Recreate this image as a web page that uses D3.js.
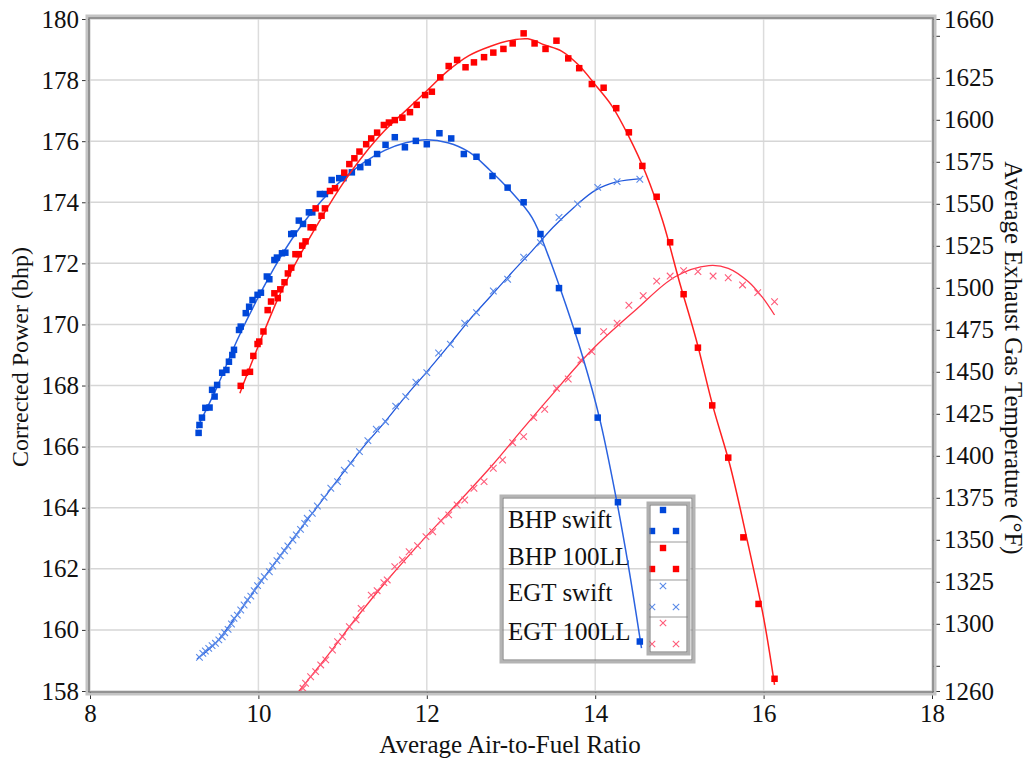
<!DOCTYPE html>
<html><head><meta charset="utf-8">
<script src="https://cdn.jsdelivr.net/npm/d3@7"></script>
<style>body{margin:0;background:#fff}</style>
</head><body><svg id="c" width="1033" height="761"></svg>
<script>
// ---------- data ----------
const xTicks = [8, 10, 12, 14, 16, 18];
const yLeftTicks = [158, 160, 162, 164, 166, 168, 170, 172, 174, 176, 178, 180];
const yRightTicks = [1260, 1275, 1300, 1325, 1350, 1375, 1400, 1425, 1450, 1475, 1500, 1525, 1550, 1575, 1600, 1625, 1650, 1660];
const yRightUnlabelled = [1275, 1650];
const legendLabels = ["BHP swift", "BHP 100LL", "EGT swift", "EGT 100LL"];

const bhpSwiftAFR = [9.29,9.30,9.33,9.37,9.42,9.45,9.48,9.51,9.57,9.62,9.65,9.69,9.71,9.77,9.79,9.85,9.89,9.93,9.99,10.03,10.10,10.13,10.19,10.22,10.28,10.32,10.39,10.42,10.48,10.53,10.60,10.64,10.73,10.79,10.87,10.96,11.01,11.11,11.21,11.30,11.41,11.51,11.62,11.74,11.87,12.00,12.15,12.29,12.44,12.59,12.78,12.96,13.15,13.35,13.57,13.79,14.03,14.27,14.53];
const bhpSwift = [166.45,166.71,166.95,167.27,167.28,167.86,167.64,168.02,168.42,168.51,168.78,169.00,169.17,169.82,169.93,170.37,170.58,170.80,170.97,171.04,171.57,171.48,172.11,172.19,172.33,172.35,172.96,172.98,173.40,173.29,173.67,173.67,174.27,174.27,174.73,174.79,174.79,174.98,175.15,175.30,175.58,175.88,176.13,175.80,176.01,175.90,176.26,176.09,175.58,175.49,174.86,174.48,174.00,172.96,171.19,169.79,166.95,164.18,159.62];
const bhpSwiftFitAFR = [9.27,9.5,9.75,10.0,10.25,10.5,10.75,11.0,11.25,11.5,11.75,12.0,12.25,12.5,12.75,13.0,13.25,13.45,13.65,13.85,14.05,14.25,14.4,14.55];
const bhpSwiftFit = [166.6,167.9,169.5,170.9,172.15,173.2,174.05,174.75,175.3,175.7,175.95,176.05,175.95,175.65,175.05,174.35,173.5,172.2,170.65,168.95,166.95,164.3,162.0,159.4];

const bhp100AFR = [9.79,9.84,9.90,9.94,9.99,10.01,10.06,10.11,10.15,10.19,10.23,10.26,10.31,10.35,10.39,10.44,10.48,10.52,10.56,10.62,10.65,10.68,10.75,10.79,10.85,10.91,11.02,11.08,11.14,11.20,11.28,11.34,11.41,11.49,11.55,11.62,11.71,11.80,11.88,11.98,12.06,12.16,12.26,12.36,12.46,12.56,12.68,12.79,12.91,13.02,13.15,13.28,13.41,13.54,13.68,13.81,13.96,14.10,14.25,14.40,14.56,14.73,14.89,15.05,15.22,15.39,15.58,15.76,15.94,16.13];
const bhp100 = [167.99,168.42,168.45,168.97,169.36,169.44,169.77,170.47,170.75,171.02,170.86,171.15,171.38,171.67,171.86,172.30,172.30,172.58,172.72,173.18,173.18,173.80,173.56,173.80,174.37,174.46,174.97,175.25,175.44,175.66,175.90,176.09,176.28,176.53,176.61,176.69,176.77,176.95,177.19,177.51,177.62,178.09,178.46,178.66,178.42,178.58,178.75,178.90,179.02,179.20,179.53,179.20,179.02,179.29,178.71,178.39,177.87,177.75,177.08,176.29,175.19,174.18,172.69,170.99,169.24,167.35,165.64,163.03,160.85,158.40];
const bhp100FitAFR = [9.78,10.0,10.25,10.5,10.75,11.0,11.25,11.5,11.75,12.0,12.25,12.5,12.75,13.0,13.2,13.4,13.6,13.8,14.0,14.2,14.4,14.6,14.8,15.0,15.2,15.4,15.6,15.8,16.0,16.13];
const bhp100Fit = [167.75,169.3,170.95,172.3,173.5,174.6,175.55,176.35,177.0,177.65,178.3,178.8,179.1,179.3,179.35,179.15,178.95,178.5,177.85,177.15,176.15,174.95,173.4,171.4,169.5,167.3,165.4,163.0,160.4,158.2];

const egtSwiftAFR = [9.30,9.34,9.37,9.41,9.45,9.49,9.53,9.57,9.60,9.64,9.68,9.71,9.75,9.79,9.83,9.87,9.91,9.95,9.99,10.03,10.07,10.13,10.17,10.22,10.26,10.31,10.35,10.41,10.45,10.50,10.55,10.58,10.64,10.70,10.78,10.86,10.94,11.02,11.10,11.20,11.30,11.40,11.51,11.63,11.75,11.87,12.00,12.14,12.28,12.45,12.59,12.79,12.96,13.15,13.35,13.57,13.79,14.03,14.26,14.53];
const egtSwift = [1280.0,1282.4,1283.8,1285.4,1287.0,1288.4,1290.4,1292.3,1294.7,1296.7,1299.9,1303.3,1305.2,1308.2,1311.2,1314.2,1316.5,1319.7,1322.7,1325.7,1328.0,1331.0,1334.4,1337.6,1340.4,1343.5,1346.3,1349.9,1352.9,1356.2,1359.8,1362.8,1365.8,1370.1,1375.3,1380.7,1384.6,1391.5,1395.5,1402.5,1409.0,1415.8,1420.3,1429.6,1435.2,1443.8,1449.5,1461.2,1466.4,1478.9,1485.2,1498.1,1505.1,1518.2,1526.8,1541.9,1549.9,1559.8,1563.2,1564.6];
const egtSwiftFitAFR = [9.27,9.5,9.75,10.0,10.25,10.5,10.75,11.0,11.25,11.5,11.75,12.0,12.25,12.5,12.75,13.0,13.25,13.5,13.75,14.0,14.25,14.55];
const egtSwiftFit = [1279,1289,1305.5,1323,1340,1356.5,1373,1389.5,1405.5,1420,1435.5,1450,1465,1480.5,1494.5,1508.5,1522,1536,1548,1558,1563,1565];

const egt100AFR = [10.53,10.56,10.62,10.68,10.74,10.80,10.88,10.94,11.00,11.08,11.16,11.22,11.34,11.41,11.49,11.53,11.62,11.71,11.79,11.89,11.99,12.07,12.17,12.26,12.36,12.45,12.56,12.68,12.79,12.90,13.02,13.15,13.27,13.40,13.54,13.68,13.83,13.96,14.10,14.26,14.40,14.57,14.73,14.89,15.05,15.22,15.40,15.58,15.75,15.93,16.13];
const egt100 = [1261.6,1264.6,1268.5,1271.5,1275.5,1278.5,1284.4,1289.4,1292.3,1298.3,1302.3,1309.2,1317.1,1319.7,1324.5,1326.1,1334.0,1338.0,1342.9,1346.5,1351.9,1354.8,1361.2,1364.8,1370.7,1373.7,1380.7,1384.6,1392.6,1397.5,1407.8,1411.4,1422.7,1427.7,1440.2,1445.7,1457.0,1462.0,1473.9,1478.9,1489.6,1495.3,1504.0,1507.0,1510.2,1509.6,1507.0,1506.0,1501.7,1497.1,1491.7];
const egt100FitAFR = [10.45,10.84,11.16,11.55,11.99,12.42,12.78,13.13,13.45,13.96,14.48,14.95,15.35,15.58,15.82,15.98,16.13];
const egt100Fit = [1258,1282.3,1303.3,1327.1,1351.9,1374.7,1394.5,1415.4,1434.2,1463,1486.8,1506.6,1513.2,1511.6,1503.6,1494.7,1483.8];

// ---------- layout ----------
const svg = d3.select("#c");
const X0 = 90, X1 = 932, Y0 = 19, Y1 = 691;
const x = d3.scaleLinear().domain([8, 18]).range([X0, X1]);
const yL = d3.scaleLinear().domain([158, 180]).range([Y1, Y0]);
const yR = d3.scaleLinear().domain([1260, 1660]).range([Y1, Y0]);
const FONT = "'Liberation Serif','Times New Roman',serif";

const C = {
  bhpSwift: "#0047d9", bhpSwiftLine: "#2a62e0",
  bhp100: "#ff0000", bhp100Line: "#ff2020",
  egtSwift: "#5a8ae8", egtSwiftLine: "#2158dc",
  egt100: "#ff5c7a", egt100Line: "#ff3347"
};

svg.append("rect").attr("width", 1033).attr("height", 761).attr("fill", "#fff");

// gridlines
const grid = svg.append("g");
grid.selectAll("line.gx").data(xTicks).join("line")
  .attr("x1", d => x(d)).attr("x2", d => x(d)).attr("y1", Y0).attr("y2", Y1)
  .attr("stroke", "#dcdcdc").attr("stroke-width", 1.5);
grid.selectAll("line.gy").data(yLeftTicks).join("line")
  .attr("x1", X0).attr("x2", X1).attr("y1", d => yL(d)).attr("y2", d => yL(d))
  .attr("stroke", "#d6d6d6").attr("stroke-width", 1.5);

// axes
function styleAxis(g) {
  g.attr("font-family", FONT).attr("font-size", 25);
  g.select(".domain").remove();
  g.selectAll("text").style("font-family", FONT).style("font-size", "25px").attr("fill", "#111");
  g.selectAll("line").attr("stroke", "#333").attr("stroke-width", 1);
}
svg.append("g").attr("transform", `translate(${X0 - 1},0)`)
  .call(d3.axisLeft(yL).tickValues(yLeftTicks).tickSize(7).tickPadding(3).tickFormat(d3.format("d")))
  .call(styleAxis);
svg.append("g").attr("transform", `translate(${X1 + 1},0)`)
  .call(d3.axisRight(yR).tickValues(yRightTicks).tickSize(7).tickPadding(4)
    .tickFormat(d => yRightUnlabelled.includes(d) ? "" : d3.format("d")(d)))
  .call(styleAxis);
svg.append("g").attr("transform", `translate(0,${Y1 + 1})`)
  .call(d3.axisBottom(x).tickValues(xTicks).tickSize(7).tickPadding(5).tickFormat(d3.format("d")))
  .call(styleAxis);

// frame (bevelled double border)
svg.append("rect").attr("x", X0 - 3).attr("y", Y0 - 3).attr("width", X1 - X0 + 6).attr("height", Y1 - Y0 + 6)
  .attr("fill", "none").attr("stroke", "#c4c4c4").attr("stroke-width", 3);
svg.append("rect").attr("x", X0 - 1).attr("y", Y0 - 1).attr("width", X1 - X0 + 2).attr("height", Y1 - Y0 + 2)
  .attr("fill", "none").attr("stroke", "#7a7a7a").attr("stroke-width", 1.5);

// axis titles
svg.append("text").attr("transform", `translate(28,357) rotate(-90)`).attr("text-anchor", "middle")
  .style("font-family", FONT).attr("font-size", 24).attr("fill", "#111").text("Corrected Power (bhp)");
svg.append("text").attr("transform", `translate(1005,358) rotate(90)`).attr("text-anchor", "middle")
  .style("font-family", FONT).attr("font-size", 25).attr("fill", "#111").text("Average Exhaust Gas Temperature (°F)");
svg.append("text").attr("x", 510).attr("y", 753).attr("text-anchor", "middle")
  .style("font-family", FONT).attr("font-size", 25).attr("fill", "#111").text("Average Air-to-Fuel Ratio");

// legend (transparent text area)
const lg = svg.append("g");
lg.append("rect").attr("x", 501).attr("y", 496).attr("width", 193).attr("height", 166)
  .attr("fill", "none").attr("stroke", "#b4b4b4").attr("stroke-width", 3);
lg.append("rect").attr("x", 503).attr("y", 498).attr("width", 189).attr("height", 162)
  .attr("fill", "none").attr("stroke", "#777").attr("stroke-width", 1);
lg.selectAll("text").data(legendLabels).join("text")
  .attr("x", 508).attr("y", (d, i) => [528, 565, 601, 640][i])
  .style("font-family", FONT).attr("font-size", 25).attr("fill", "#111").text(d => d);

// plot clip
svg.append("clipPath").attr("id", "plotclip").append("rect")
  .attr("x", X0).attr("y", Y0).attr("width", X1 - X0).attr("height", Y1 - Y0);
const plot = svg.append("g").attr("clip-path", "url(#plotclip)");

const zip = (a, b) => a.map((v, i) => [v, b[i]]);
const lineL = d3.line().x(d => x(d[0])).y(d => yL(d[1])).curve(d3.curveCatmullRom);
const lineR = d3.line().x(d => x(d[0])).y(d => yR(d[1])).curve(d3.curveCatmullRom);

function xMarks(g, pts, yScale, color, s) {
  g.selectAll(null).data(pts).join("path")
    .attr("d", d => {
      const cx = x(d[0]), cy = yScale(d[1]);
      return `M${cx - s},${cy - s}L${cx + s},${cy + s}M${cx - s},${cy + s}L${cx + s},${cy - s}`;
    })
    .attr("stroke", color).attr("stroke-width", 1.1).attr("fill", "none");
}
function sqMarks(g, pts, yScale, color, s) {
  g.selectAll(null).data(pts).join("rect")
    .attr("x", d => x(d[0]) - s / 2).attr("y", d => yScale(d[1]) - s / 2)
    .attr("width", s).attr("height", s).attr("fill", color);
}

// EGT series (right axis)
plot.append("path").datum(zip(egtSwiftFitAFR, egtSwiftFit)).attr("d", lineR)
  .attr("fill", "none").attr("stroke", C.egtSwiftLine).attr("stroke-width", 1.3);
xMarks(plot.append("g"), zip(egtSwiftAFR, egtSwift), yR, C.egtSwift, 3.3);
plot.append("path").datum(zip(egt100FitAFR, egt100Fit)).attr("d", lineR)
  .attr("fill", "none").attr("stroke", C.egt100Line).attr("stroke-width", 1.3);
xMarks(plot.append("g"), zip(egt100AFR, egt100), yR, C.egt100, 3.3);

// BHP series (left axis)
plot.append("path").datum(zip(bhpSwiftFitAFR, bhpSwiftFit)).attr("d", lineL)
  .attr("fill", "none").attr("stroke", C.bhpSwiftLine).attr("stroke-width", 1.5);
sqMarks(plot.append("g"), zip(bhpSwiftAFR, bhpSwift), yL, C.bhpSwift, 6.5);
plot.append("path").datum(zip(bhp100FitAFR, bhp100Fit)).attr("d", lineL)
  .attr("fill", "none").attr("stroke", C.bhp100Line).attr("stroke-width", 1.5);
sqMarks(plot.append("g"), zip(bhp100AFR, bhp100), yL, C.bhp100, 6.5);

// legend symbol box
const sb = svg.append("g");
sb.append("clipPath").attr("id", "symclip").append("rect").attr("x", 649).attr("y", 504).attr("width", 39).attr("height", 149);
sb.append("rect").attr("x", 649).attr("y", 504).attr("width", 39).attr("height", 149).attr("fill", "#fff");
const cellTops = [504, 542, 580, 617];
sb.selectAll("line.sep").data(cellTops.slice(1)).join("line")
  .attr("x1", 649).attr("x2", 688).attr("y1", d => d).attr("y2", d => d).attr("stroke", "#9a9a9a").attr("stroke-width", 1);
const symG = sb.append("g").attr("clip-path", "url(#symclip)");
const symColors = [C.bhpSwift, C.bhp100, C.egtSwift, C.egt100];
cellTops.forEach((t, i) => {
  const pts = [[663, t + 6], [652, t + 27], [676, t + 27]];
  pts.forEach(p => {
    if (i < 2) {
      symG.append("rect").attr("x", p[0] - 3.2).attr("y", p[1] - 3.2).attr("width", 6.4).attr("height", 6.4).attr("fill", symColors[i]);
    } else {
      const s = 3.2;
      symG.append("path").attr("d", `M${p[0]-s},${p[1]-s}L${p[0]+s},${p[1]+s}M${p[0]-s},${p[1]+s}L${p[0]+s},${p[1]-s}`)
        .attr("stroke", symColors[i]).attr("stroke-width", 1.1);
    }
  });
});
sb.append("rect").attr("x", 648).attr("y", 503).attr("width", 41).attr("height", 151)
  .attr("fill", "none").attr("stroke", "#b0b0b0").attr("stroke-width", 3);
sb.append("rect").attr("x", 650).attr("y", 505).attr("width", 37).attr("height", 147)
  .attr("fill", "none").attr("stroke", "#777").attr("stroke-width", 1);
</script>
</body></html>
